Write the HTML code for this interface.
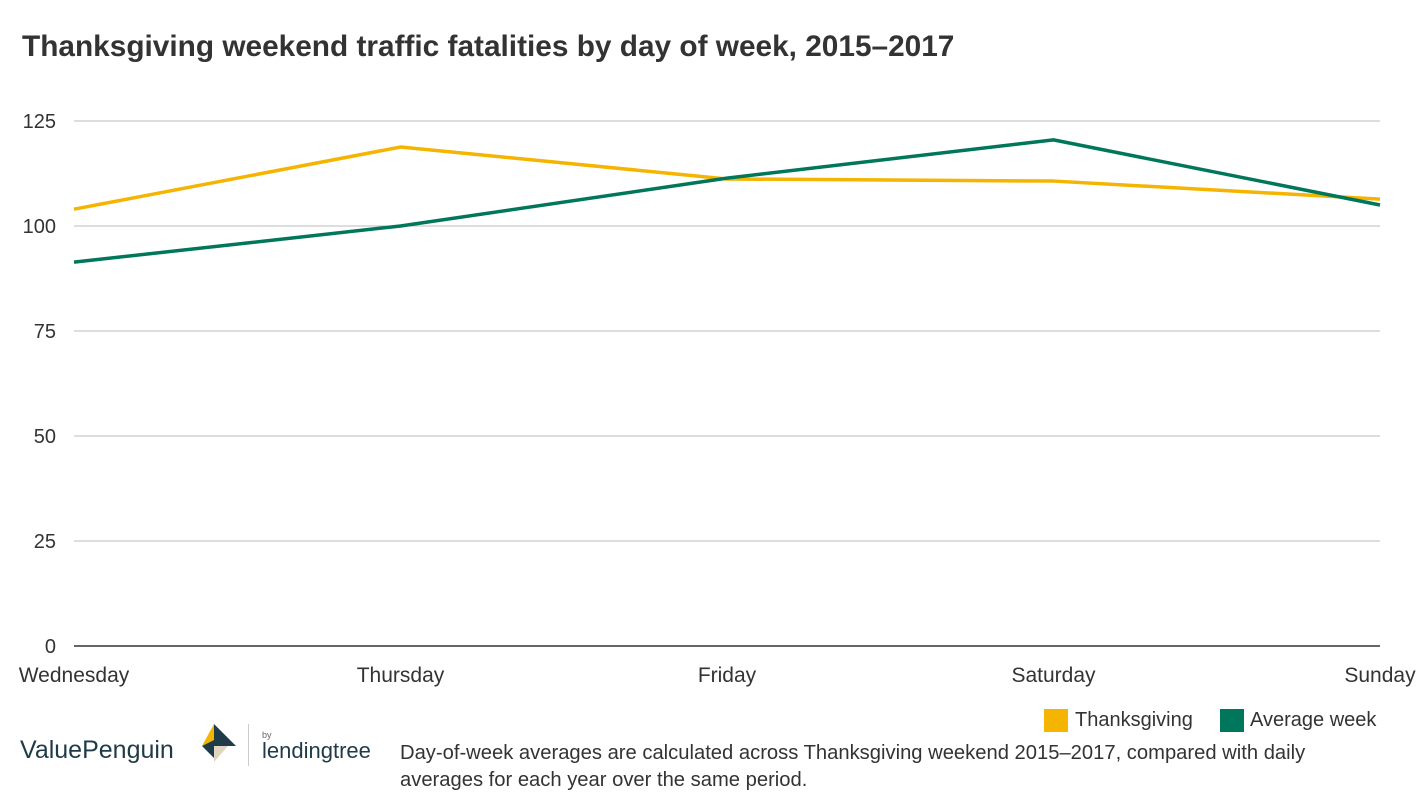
<!DOCTYPE html>
<html><head><meta charset="utf-8"><style>
body{margin:0;width:1418px;height:810px;background:#fff;font-family:"Liberation Sans",sans-serif;overflow:hidden;position:relative}
.t{position:absolute;white-space:nowrap}
</style></head><body>
<div class="t" style="left:22px;top:30px;font-size:29.8px;font-weight:bold;color:#333">Thanksgiving weekend traffic fatalities by day of week, 2015–2017</div>
<svg id="chart" width="1418" height="700" style="position:absolute;left:0;top:0"></svg>
<div style="position:absolute;left:1044px;top:708px;font-size:20px;color:#333">
<span style="position:absolute;left:0;top:1px;width:24px;height:23px;background:#f5b400"></span><span class="t" style="left:31px;top:1px">Thanksgiving</span>
<span style="position:absolute;left:176px;top:1px;width:24px;height:23px;background:#00765a"></span><span class="t" style="left:206px;top:1px">Average week</span>
</div>
<div class="t" style="left:400px;top:740px;font-size:20.2px;line-height:27px;color:#333">Day-of-week averages are calculated across Thanksgiving weekend 2015–2017, compared with daily<br>averages for each year over the same period.</div>
<div style="position:absolute;left:20px;top:722px;height:50px">
<span class="t" style="left:0;top:14px;font-size:25px;color:#1f3a48">ValuePenguin</span>
<svg style="position:absolute;left:172px;top:2px" width="60" height="44"><polygon points="22,0 22,16 10,22" fill="#f5b400"/><polygon points="22,0 44,22 22,22" fill="#1f3a48"/><polygon points="10,22 22,16 22,22 22,34" fill="#1f3a48"/><polygon points="22,22 36,22 22,38" fill="#e0d6c0"/></svg>
<div style="position:absolute;left:228px;top:2px;width:1px;height:42px;background:#ccc"></div>
<span class="t" style="left:242px;top:8px;font-size:9px;color:#666">by</span>
<span class="t" style="left:242px;top:16px;font-size:22px;color:#1f3a48">lendingtree</span>
</div>
<script>
const categories=["Wednesday","Thursday","Friday","Saturday","Sunday"];
const thanksgiving=[104,118.8,111.2,110.7,106.4];
const averageWeek=[91.4,100,111.4,120.5,105];
const yTicks=[0,25,50,75,100,125];
const svg=document.getElementById('chart');
const NS='http://www.w3.org/2000/svg';
const x0=74,x1=1380,yBase=646,yTop=121;
const xs=i=>x0+i*(x1-x0)/(categories.length-1);
const ys=v=>yBase-(v/125)*(yBase-yTop);
function mk(t,a){const e=document.createElementNS(NS,t);for(const k in a)e.setAttribute(k,a[k]);svg.appendChild(e);return e;}
yTicks.forEach(v=>{
 const l=mk('line',{x1:x0,x2:x1,y1:ys(v),y2:ys(v),stroke:v===0?'#333':'#bbb','stroke-width':v===0?1.5:1});
 
 
 const t=mk('text',{x:56,y:ys(v)+7,'text-anchor':'end','font-size':20,fill:'#333','font-family':'Liberation Sans, sans-serif'});
 t.textContent=v;
 
 
});
categories.forEach((c,i)=>{
 const t=mk('text',{x:xs(i),y:682,'text-anchor':'middle','font-size':21,fill:'#333','font-family':'Liberation Sans, sans-serif'});
 t.textContent=c;
 
 
});
[[thanksgiving,'#f5b400','thanksgiving-line'],[averageWeek,'#00765a','average-week-line']].forEach(([d,col,n])=>{
 const p=mk('polyline',{points:d.map((v,i)=>xs(i)+','+ys(v)).join(' '),fill:'none',stroke:col,'stroke-width':3.5,'stroke-linejoin':'round'});
 
 
});
</script>
</body></html>
